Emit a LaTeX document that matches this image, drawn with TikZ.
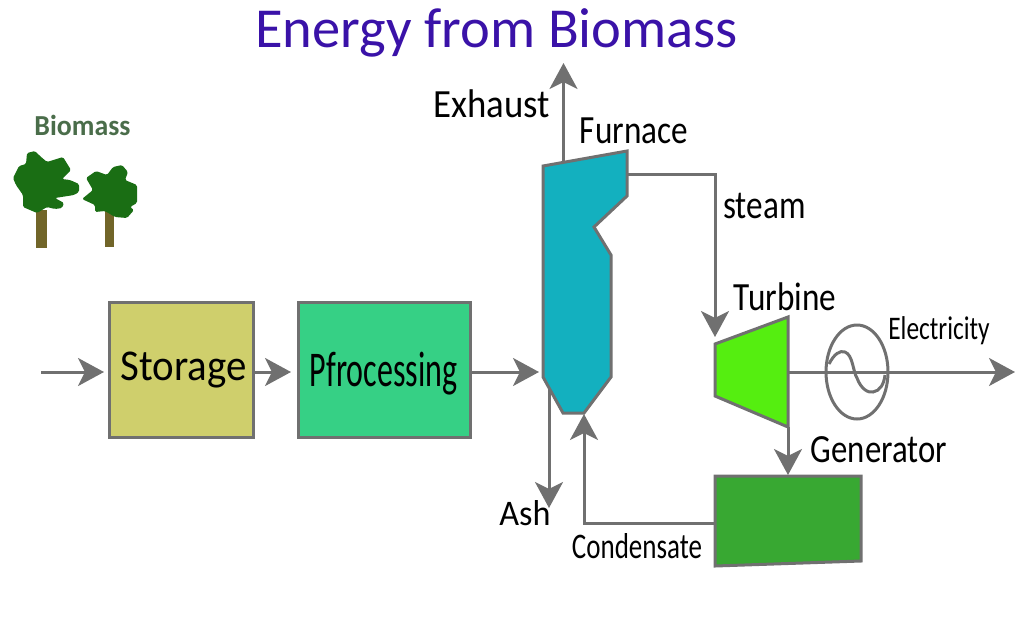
\documentclass[tikz,border=0pt]{standalone}
\usepackage{fontspec}
\setmainfont{Carlito}
\usetikzlibrary{arrows.meta, calc}
\newcommand{\fsize}[1]{\fontsize{#1}{#1}\selectfont}
\newcommand{\narrowtext}[2]{\scalebox{#1}[1]{#2}}
\tikzset{
  line/.style = {draw=linegray, line width=3pt},
  flow/.style = {line, -{Stealth[length=26pt, width=28pt, inset=7pt]}},
  part/.style = {draw=linegray, line width=3pt, line join=miter},
  lbl/.style  = {inner sep=0pt, text=black},
}
\definecolor{linegray}{HTML}{707070}
\definecolor{storagecol}{HTML}{CFCF6C}
\definecolor{processcol}{HTML}{36D085}
\definecolor{furnacecol}{HTML}{13B0BF}
\definecolor{turbinecol}{HTML}{55EE10}
\definecolor{generatorcol}{HTML}{38A832}
\definecolor{titlecol}{HTML}{3A12A8}
\definecolor{biomasscol}{HTML}{4A6D4A}
\definecolor{crowncol}{HTML}{1A6E14}
\definecolor{trunkcol}{HTML}{716529}
\begin{document}
\begin{tikzpicture}[x=1pt, y=-1pt]
\useasboundingbox (0,0) rectangle (1024,630);
% labels
\node [lbl, text=titlecol] (title) at (496.5,33) {\fsize{56.5}Energy from Biomass};
\node [lbl, text=biomasscol] (biomass) at (82.5,125) {\fsize{29}\bfseries\narrowtext{0.96}{Biomass}};
\node [lbl] (exhaust) at (492,104) {\fsize{40}\narrowtext{0.92}{Exhaust}};
\node [lbl] (furnacelbl) at (634,131) {\fsize{40}\narrowtext{0.83}{Furnace}};
\node [lbl] (steam) at (764.5,206) {\fsize{40}\narrowtext{0.83}{steam}};
\node [lbl] (turbinelbl) at (785,297) {\fsize{40}\narrowtext{0.83}{Turbine}};
\node [lbl] (electricity) at (939,331) {\fsize{33}\narrowtext{0.77}{Electricity}};
\node [lbl] (generatorlbl) at (879,450) {\fsize{40}\narrowtext{0.82}{Generator}};
\node [lbl] (ash) at (525,513) {\fsize{36}\narrowtext{0.95}{Ash}};
\node [lbl] (condensate) at (637,546) {\fsize{36}\narrowtext{0.75}{Condensate}};
% trees
\fill [trunkcol] (36,210) rectangle (47,248);
\fill [trunkcol] (105,210) rectangle (114,247);
\fill [crowncol, rounded corners=1.5pt]
  (27,153) -- (35,151) -- (40,156) -- (47,162) -- (63,157) -- (71,170) -- (62,179) -- (70,180) -- (79,184) -- (79,192) -- (74,195) -- (55,198) -- (64,203) -- (62,208) -- (55,209) -- (47,207) -- (37,213) -- (23,207) -- (23,195) -- (16,185) -- (13,178) -- (19,166) -- (26,164) -- cycle;
\fill [crowncol, rounded corners=1.5pt]
  (86,178) -- (96,171) -- (107,175) -- (113,167) -- (122,165) -- (128,172) -- (125,180) -- (137,185) -- (137,203) -- (130,207) -- (134,210) -- (127,218) -- (115,217) -- (105,211) -- (95,212) -- (95,205) -- (82,199) -- (93,190) -- cycle;
% blocks
\node [part, fill=storagecol, minimum width=144pt, minimum height=135pt, inner sep=0pt] (storage) at (181,369.5) {\hspace*{5pt}\fsize{44}\narrowtext{0.93}{Storage}};
\node [part, fill=processcol, minimum width=172pt, minimum height=135pt, inner sep=0pt] (processing) at (384,369.5) {};
\node [lbl] (processinglbl) at (383.5,374) {\fsize{50}\narrowtext{0.64}{Pfrocessing}};
\draw [part, fill=furnacecol] (543,166) -- (627,151) -- (627,196) -- (594,227) -- (611,255) -- (611,377) -- (584,413) -- (563,413) -- (543,377) -- cycle;
\draw [part, fill=turbinecol] (715,344) -- (788,317) -- (788,427) -- (715,396) -- cycle;
\draw [part, fill=generatorcol] (715,476) -- (861,476) -- (861,561) -- (715,566) -- cycle;
% ports
\coordinate (feed) at (41,372);
\coordinate (storagein) at (104,372);
\coordinate (processingin) at (291,372);
\coordinate (furnacein) at (539,372);
\coordinate (furnacetop) at (563.5,162);
\coordinate (exhaustend) at (563.5,63);
\coordinate (furnaceout) at (627,174);
\coordinate (steambend) at (715,174);
\coordinate (turbinein) at (715,337);
\coordinate (turbineout) at (788,372);
\coordinate (gridend) at (1015,372);
\coordinate (turbinedown) at (788,427);
\coordinate (generatortop) at (788,475);
\coordinate (generatorout) at (715,523);
\coordinate (condensebend) at (584,523);
\coordinate (furnacebottom) at (584,414);
\coordinate (ashstart) at (549,388);
\coordinate (ashend) at (549,508);
% connectors
\draw [flow] (feed) -- (storagein);
\draw [flow] (storage.east |- feed) -- (processingin);
\draw [flow] (processing.east |- feed) -- (furnacein);
\draw [flow] (furnacetop) -- (exhaustend);
\draw [flow] (furnaceout) -- (steambend) -- (turbinein);
\draw [flow] (turbineout) -- (gridend);
\draw [flow] (turbinedown) -- (generatortop);
\draw [flow] (generatorout) -- (condensebend) -- (furnacebottom);
\draw [flow] (ashstart) -- (ashend);
% generator symbol
\draw [line] (857,372) ellipse [x radius=31, y radius=47];
\draw [line] (829,364) .. controls (834,354) and (840,350) .. (845,352) .. controls (853,355) and (853,372) .. (857,378) .. controls (861,389) and (868,393) .. (873,392) .. controls (880,391) and (884,384) .. (885,375);
\end{tikzpicture}
\end{document}
